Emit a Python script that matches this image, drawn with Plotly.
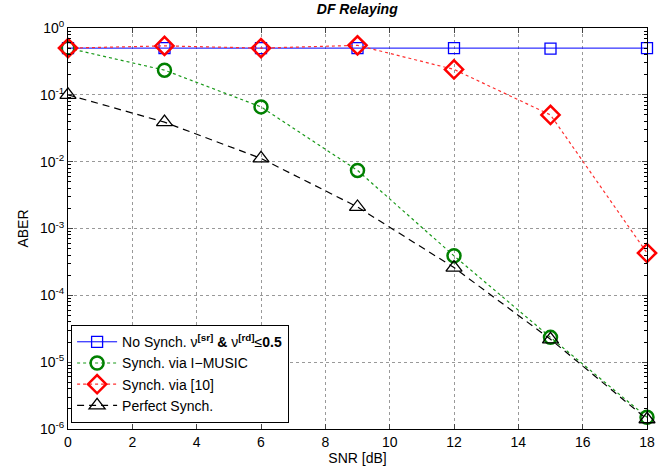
import plotly.graph_objects as go

snr = [0, 3, 6, 9, 12, 15, 18]
no_synch = [0.5, 0.5, 0.5, 0.5, 0.5, 0.49, 0.5]
imusic = [0.5, 0.234, 0.066, 0.0074, 3.9e-4, 2.35e-5, 1.5e-6]
ref10 = [0.5, 0.54, 0.5, 0.55, 0.24, 0.05, 4.3e-4]
perfect = [0.1, 0.039, 0.0112, 2.1e-3, 2.6e-4, 2.2e-5, 1.4e-6]

x_ticks = [0, 2, 4, 6, 8, 10, 12, 14, 16, 18]
y_tickvals = [1, 1e-1, 1e-2, 1e-3, 1e-4, 1e-5, 1e-6]
y_ticktext = ["10<sup>0</sup>", "10<sup>-1</sup>", "10<sup>-2</sup>", "10<sup>-3</sup>",
              "10<sup>-4</sup>", "10<sup>-5</sup>", "10<sup>-6</sup>"]

names = [
    "No Synch. ν<b><sup>[sr]</sup> &amp; </b>ν<b><sup>[rd]</sup></b>≤<b>0.5</b>",
    "Synch. via I−MUSIC",
    "Synch. via [10]",
    "Perfect Synch.",
]

font = "Liberation Sans, Arial, Helvetica, sans-serif"

fig = go.Figure()
fig.add_trace(go.Scatter(x=snr, y=no_synch, name=names[0], mode="lines+markers",
                         cliponaxis=False,
                         line=dict(color="#0000ff", width=1, dash="solid"),
                         marker=dict(symbol="square-open", size=11, color="#0000ff",
                                     line=dict(width=1.3, color="#0000ff"))))
fig.add_trace(go.Scatter(x=snr, y=imusic, name=names[1], mode="lines+markers",
                         cliponaxis=False,
                         line=dict(color="#1a9a1a", width=1.2, dash="dot"),
                         marker=dict(symbol="circle-open", size=13, color="#008000",
                                     line=dict(width=2.5, color="#008000"))))
fig.add_trace(go.Scatter(x=snr, y=ref10, name=names[2], mode="lines+markers",
                         cliponaxis=False,
                         line=dict(color="#ff3030", width=1.2, dash="dot"),
                         marker=dict(symbol="diamond-open", size=14, color="#ff0000",
                                     line=dict(width=2.5, color="#ff0000"))))
fig.add_trace(go.Scatter(x=snr, y=perfect, name=names[3], mode="lines+markers",
                         cliponaxis=False,
                         line=dict(color="#000000", width=1.2, dash="7px,5px"),
                         marker=dict(symbol="triangle-up-open", size=14, color="#000000",
                                     line=dict(width=1.3, color="#000000"))))

fig.update_layout(
    width=669, height=474,
    margin=dict(l=68, r=22, t=28, b=39),
    paper_bgcolor="white", plot_bgcolor="white",
    font=dict(family=font, size=14, color="black"),
    title=dict(text="<b><i>DF Relaying</i></b>", x=0.534, xanchor="center",
               y=0.992, yanchor="top", font=dict(size=14, family=font)),
    showlegend=True,
    legend=dict(x=0.005, y=0.015, xanchor="left", yanchor="bottom",
                bgcolor="white", bordercolor="black", borderwidth=1.2,
                font=dict(size=14, family=font), tracegroupgap=0,
                itemwidth=40),
)

fig.update_xaxes(
    range=[0, 18], tickvals=x_ticks, ticks="inside", ticklen=5,
    showline=True, linecolor="black", linewidth=1, mirror="ticks",
    showgrid=True, gridcolor="#999999", griddash="dot", gridwidth=1,
    zeroline=False,
    title=dict(text="SNR [dB]", font=dict(size=14), standoff=2),
    tickfont=dict(size=14),
)
fig.update_yaxes(
    type="log", range=[-6, 0], tickvals=y_tickvals, ticktext=y_ticktext,
    ticks="inside", ticklen=5,
    showline=True, linecolor="black", linewidth=1, mirror="ticks",
    showgrid=True, gridcolor="#999999", griddash="dot", gridwidth=1,
    zeroline=False,
    minor=dict(ticks="inside", ticklen=3, dtick="D1", showgrid=False, tickcolor="black"),
    title=dict(text="ABER", font=dict(size=14), standoff=8),
    tickfont=dict(size=14),
)

fig.write_html("out.html", config={"displayModeBar": False},
               post_script="document.body.style.margin='0px';document.body.style.overflow='hidden';")
